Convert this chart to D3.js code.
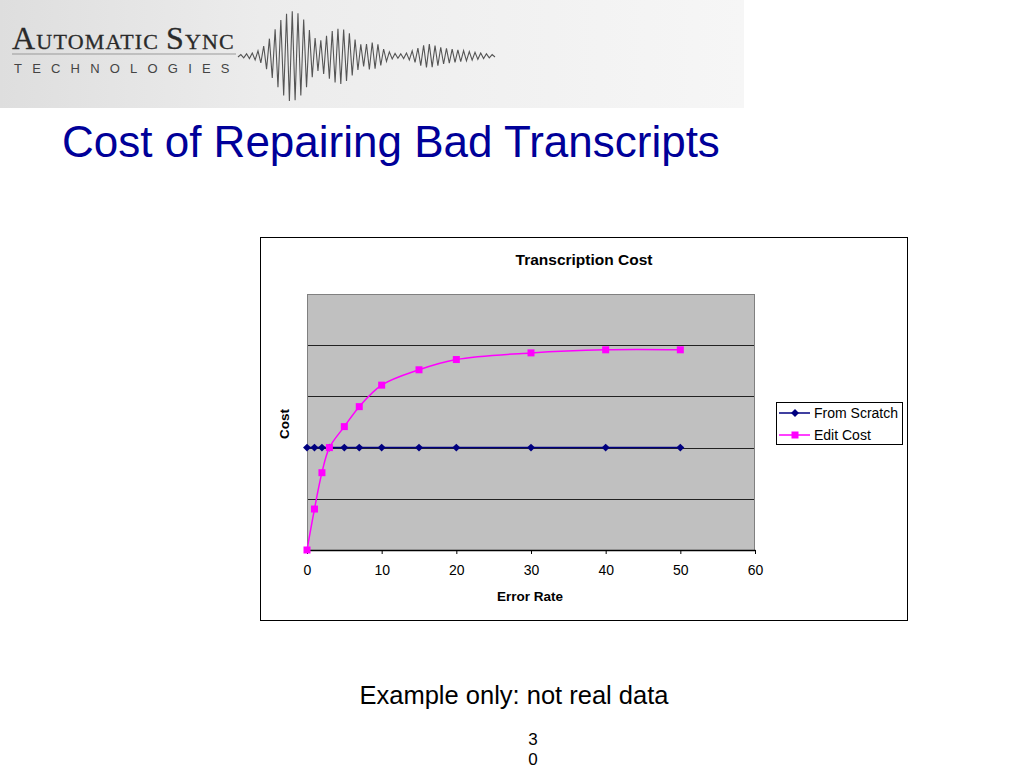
<!DOCTYPE html>
<html lang="en">
<head>
<meta charset="UTF-8">
<title>Cost of Repairing Bad Transcripts</title>
<script src="https://d3js.org/d3.v7.min.js"></script>
<style>
    body { margin: 0; background: #fff; }
    svg { font-family: "Liberation Sans", Arial, sans-serif; }
</style>
</head>
<body>
<svg id="slide" width="1024" height="768"></svg>
<script>
    // chart data
    const errorRates = [0, 1, 2, 3, 5, 7, 10, 15, 20, 30, 40, 50];
    const fromScratch = [2, 2, 2, 2, 2, 2, 2, 2, 2, 2, 2, 2];
    const editCost = [0, 0.8, 1.51, 2.0, 2.41, 2.8, 3.22, 3.52, 3.72, 3.85, 3.91, 3.91];
    const xTicks = [0, 10, 20, 30, 40, 50, 60];
    const yGrid = [1, 2, 3, 4, 5];
    const seriesNames = ["From Scratch", "Edit Cost"];
    // logo waveform envelope (decoration only)
    const waveEnvelope = [1, 2, 3, 6, 14, 26, 38, 45, 44, 36, 22, 14, 20, 26, 28, 24, 16, 10, 14, 12, 6, 3, 2, 3, 6, 10, 12, 10, 8, 7, 6, 5, 4, 3, 2, 1];

    const svg = d3.select("#slide");

    // ---- logo banner ----
    const grad = svg.append("defs").append("linearGradient")
        .attr("id", "logoBg").attr("x1", 0).attr("x2", 1).attr("y1", 0).attr("y2", 0);
    grad.append("stop").attr("offset", "0%").attr("stop-color", "#dedede");
    grad.append("stop").attr("offset", "35%").attr("stop-color", "#ececec");
    grad.append("stop").attr("offset", "100%").attr("stop-color", "#f6f6f6");
    svg.append("rect").attr("x", 0).attr("y", 0).attr("width", 744).attr("height", 108)
        .attr("fill", "url(#logoBg)");

    const logo = svg.append("text").attr("x", 12).attr("y", 49)
        .attr("font-family", "'Liberation Serif', 'DejaVu Serif', serif")
        .attr("letter-spacing", 1.2)
        .attr("fill", "#2a2a2a").attr("stroke", "#2a2a2a").attr("stroke-width", 0.3);
    logo.append("tspan").attr("font-size", 32).text("A");
    logo.append("tspan").attr("font-size", 22).text("UTOMATIC ");
    logo.append("tspan").attr("font-size", 32).text("S");
    logo.append("tspan").attr("font-size", 22).text("YNC");
    svg.append("line").attr("x1", 12).attr("x2", 236).attr("y1", 54).attr("y2", 54)
        .attr("stroke", "#999").attr("stroke-width", 1);
    svg.append("text").attr("x", 14).attr("y", 73)
        .attr("font-size", 13).attr("letter-spacing", 10.2).attr("fill", "#444")
        .text("TECHNOLOGIES");

    // waveform
    const waveX = d3.scaleLinear().domain([0, waveEnvelope.length - 1]).range([238, 495]);
    const halfCycles = 90;
    const wavePts = [];
    for (let i = 0; i <= halfCycles; i++) {
        const t = i / halfCycles * (waveEnvelope.length - 1);
        const k = Math.floor(t), f = t - k;
        const a = k + 1 < waveEnvelope.length
            ? waveEnvelope[k] * (1 - f) + waveEnvelope[k + 1] * f : waveEnvelope[k];
        wavePts.push([waveX(t), 56 + (i % 2 ? -a : a)]);
    }
    svg.append("path").attr("d", d3.line()(wavePts))
        .attr("fill", "none").attr("stroke", "#555").attr("stroke-width", 1.1);

    // ---- slide title ----
    svg.append("text").attr("x", 62).attr("y", 157)
        .attr("font-size", 44).attr("fill", "#000099")
        .text("Cost of Repairing Bad Transcripts");

    // ---- chart ----
    svg.append("rect").attr("x", 260.5).attr("y", 237.5).attr("width", 647).attr("height", 383)
        .attr("fill", "#fff").attr("stroke", "#000");

    svg.append("text").attr("x", 584).attr("y", 265).attr("text-anchor", "middle")
        .attr("font-size", 15.5).attr("font-weight", "bold").text("Transcription Cost");

    const margin = { top: 294, left: 307 };
    const width = 448, height = 256;
    const g = svg.append("g").attr("transform", `translate(${margin.left},${margin.top})`);

    const x = d3.scaleLinear().domain([0, 60]).range([0, width]);
    const y = d3.scaleLinear().domain([0, 5]).range([height, 0]);

    g.append("rect").attr("width", width).attr("height", height).attr("fill", "#c0c0c0");
    g.selectAll(".grid").data(yGrid).join("line")
        .attr("x1", 0).attr("x2", width)
        .attr("y1", d => Math.round(y(d)) + 0.5).attr("y2", d => Math.round(y(d)) + 0.5)
        .attr("stroke", d => d === 5 ? "#808080" : "#222").attr("stroke-width", 1.2);
    g.append("line").attr("x1", 0.5).attr("x2", 0.5).attr("y1", 0).attr("y2", height)
        .attr("stroke", "#808080");
    g.append("line").attr("x1", width - 0.5).attr("x2", width - 0.5).attr("y1", 0).attr("y2", height)
        .attr("stroke", "#808080");

    const xAxis = g.append("g").attr("transform", `translate(0,${height})`)
        .call(d3.axisBottom(x).tickValues(xTicks).tickSize(4).tickPadding(11).tickSizeOuter(0));
    xAxis.select(".domain").attr("stroke", "#000").attr("stroke-width", 1.3);
    xAxis.selectAll("text").attr("font-size", 14).attr("font-family", "'Liberation Sans', Arial, sans-serif");

    svg.append("text").attr("x", 530).attr("y", 601).attr("text-anchor", "middle")
        .attr("font-size", 13.5).attr("font-weight", "bold").text("Error Rate");
    svg.append("text").attr("transform", "translate(289,424) rotate(-90)")
        .attr("text-anchor", "middle").attr("font-size", 13.5).attr("font-weight", "bold").text("Cost");

    const scratchData = errorRates.map((e, i) => [e, fromScratch[i]]);
    const editData = errorRates.map((e, i) => [e, editCost[i]]);

    g.append("path").datum(scratchData)
        .attr("fill", "none").attr("stroke", "#000080").attr("stroke-width", 1.5)
        .attr("d", d3.line().x(d => x(d[0])).y(d => y(d[1])));
    g.append("path").datum(editData)
        .attr("fill", "none").attr("stroke", "#ff00ff").attr("stroke-width", 1.5)
        .attr("d", d3.line().curve(d3.curveCatmullRom.alpha(0.5)).x(d => x(d[0])).y(d => y(d[1])));

    const diamond = d3.symbol().type(d3.symbolDiamond2).size(40);
    g.selectAll(".dia").data(scratchData).join("path")
        .attr("transform", d => `translate(${x(d[0])},${y(d[1])})`)
        .attr("d", diamond).attr("fill", "#000080");
    g.selectAll(".sq").data(editData).join("rect")
        .attr("x", d => x(d[0]) - 3.5).attr("y", d => y(d[1]) - 3.5)
        .attr("width", 7).attr("height", 7).attr("fill", "#ff00ff");

    // legend
    const lg = svg.append("g").attr("transform", "translate(776,402)");
    lg.append("rect").attr("x", 0.5).attr("y", 0.5).attr("width", 126).attr("height", 42)
        .attr("fill", "#fff").attr("stroke", "#000");
    const colors = ["#000080", "#ff00ff"];
    seriesNames.forEach((name, i) => {
        const yy = 11 + i * 22;
        lg.append("line").attr("x1", 3).attr("x2", 34).attr("y1", yy).attr("y2", yy)
            .attr("stroke", colors[i]).attr("stroke-width", 1.5);
        if (i === 0) {
            lg.append("path").attr("transform", `translate(19,${yy})`).attr("d", diamond).attr("fill", colors[i]);
        } else {
            lg.append("rect").attr("x", 15.5).attr("y", yy - 3.5).attr("width", 7).attr("height", 7).attr("fill", colors[i]);
        }
        lg.append("text").attr("x", 38).attr("y", yy + 5).attr("font-size", 14).text(name);
    });

    // caption and page number
    svg.append("text").attr("x", 514).attr("y", 704).attr("text-anchor", "middle")
        .attr("font-size", 25.5).text("Example only: not real data");
    svg.append("text").attr("x", 533).attr("y", 745).attr("text-anchor", "middle")
        .attr("font-size", 17).text("3");
    svg.append("text").attr("x", 533).attr("y", 765).attr("text-anchor", "middle")
        .attr("font-size", 17).text("0");
</script>
</body>
</html>
